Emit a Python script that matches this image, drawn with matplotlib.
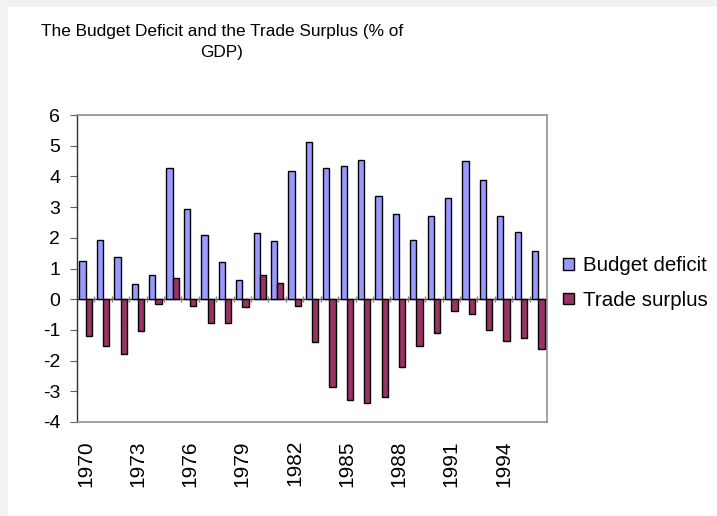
import matplotlib.pyplot as plt
import numpy as np
from matplotlib.patches import Rectangle

plt.rcParams['font.family'] = ['Liberation Sans', 'DejaVu Sans']
plt.rcParams['axes.unicode_minus'] = False

years = list(range(1970, 1997))
budget_deficit = [1.26, 1.93, 1.37, 0.48, 0.80, 4.28, 2.93, 2.10, 1.21, 0.63,
                  2.15, 1.89, 4.18, 5.12, 4.28, 4.34, 4.54, 3.35, 2.77, 1.93,
                  2.72, 3.29, 4.50, 3.87, 2.72, 2.20, 1.57]
trade_surplus = [-1.20, -1.52, -1.78, -1.04, -0.15, 0.68, -0.21, -0.78, -0.78, -0.27,
                 0.80, 0.53, -0.21, -1.41, -2.87, -3.28, -3.39, -3.18, -2.20, -1.52,
                 -1.10, -0.37, -0.47, -0.99, -1.36, -1.25, -1.62]
tick_years = years[::3]

fig = plt.figure(figsize=(7.17, 5.16), dpi=100)
fig.patch.set_facecolor('#f2f2f2')
# white chart panel, like the spreadsheet chart area
fig.patches.append(Rectangle((8 / 717, 0), 1, 1 - 7 / 516, transform=fig.transFigure,
                             facecolor='white', edgecolor='none', zorder=-1))

ax = fig.add_axes([77 / 717, 1 - 422 / 516, 470 / 717, 307 / 516])
ax.set_facecolor('white')

x = np.arange(len(years))
w = 0.36
ax.bar(x - w / 2, budget_deficit, w, color='#9999ff', edgecolor='black', linewidth=1.0,
       label='Budget deficit', zorder=3)
ax.bar(x + w / 2, trade_surplus, w, color='#993366', edgecolor='black', linewidth=1.0,
       label='Trade surplus', zorder=3)

ax.axhline(0, color='#303030', linewidth=1.0, zorder=2)
ax.vlines(np.arange(len(years) + 1) - 0.5, -0.1, 0.1, color='#808080', linewidth=1.0, zorder=2)

ax.set_xlim(-0.5, len(years) - 0.5)
ax.set_ylim(-4, 6)
ax.set_yticks(range(-4, 7))
ax.set_xticks([years.index(y) for y in tick_years])
ax.set_xticklabels([str(y) for y in tick_years], rotation=90, fontsize=15)
ax.tick_params(axis='x', length=0, pad=13)
ax.tick_params(axis='y', labelsize=14, length=5, color='#606060', pad=7)

for s in ['top', 'right', 'bottom']:
    ax.spines[s].set_color('#909090')
    ax.spines[s].set_linewidth(1.2)
ax.spines['left'].set_color('#303030')
ax.spines['left'].set_linewidth(1.0)

fig.text(222 / 717, 1 - 42 / 516, 'The Budget Deficit and the Trade Surplus (% of\nGDP)',
         ha='center', va='center', fontsize=12.4, linespacing=1.5)

fig.legend(loc='center left', bbox_to_anchor=(553 / 717, 1 - 283 / 516), frameon=False,
           fontsize=14.8, handlelength=0.5, handleheight=0.5, handletextpad=0.45,
           labelspacing=0.75, borderpad=0)

fig.savefig('out.png', dpi=100, facecolor=fig.get_facecolor())
